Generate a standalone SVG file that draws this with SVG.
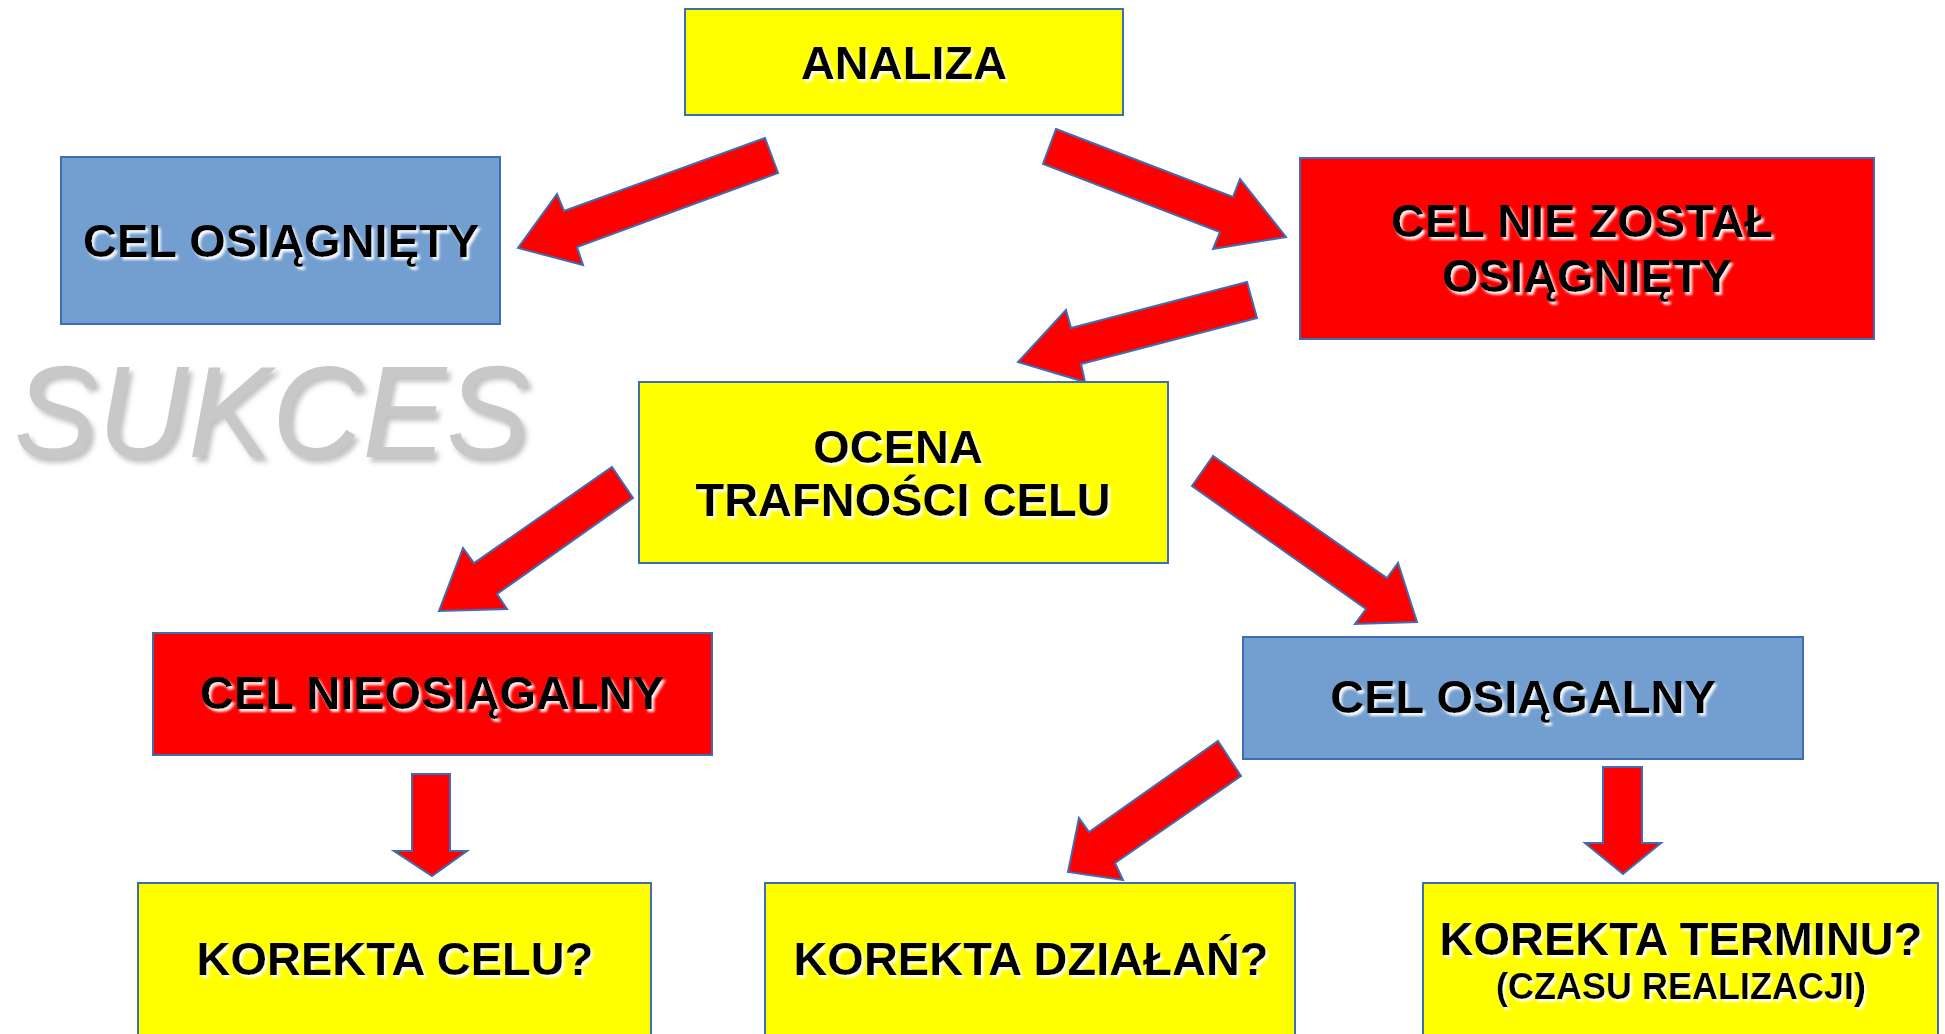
<svg xmlns="http://www.w3.org/2000/svg" width="1945" height="1034" viewBox="0 0 1945 1034">
<defs>
<filter id="ts" x="-10%" y="-20%" width="120%" height="150%">
<feDropShadow dx="2.5" dy="3" stdDeviation="1" flood-color="#ffffff" flood-opacity="0.9"/>
</filter>
<filter id="gs" x="-10%" y="-20%" width="125%" height="150%">
<feDropShadow dx="4" dy="5" stdDeviation="2.5" flood-color="#9a9a9a" flood-opacity="0.6"/>
</filter>
</defs>
<style>
.box{stroke:#3e6db3;stroke-width:2}
.y{fill:#ffff00}
.r{fill:#ff0000}
.b{fill:#739fd0}
.t{font-family:"Liberation Sans",Arial,sans-serif;font-weight:bold;font-size:47px;fill:#000;text-anchor:middle;filter:url(#ts)}
.s{font-size:36px}
.arr{fill:#ff0000;stroke:#3e6db3;stroke-width:2;stroke-linejoin:miter}
</style>
<rect width="1945" height="1034" fill="#ffffff"/>
<text x="14" y="457" font-family="'Liberation Sans',Arial,sans-serif" font-style="italic" font-size="130" fill="#c8c8c8" textLength="516" lengthAdjust="spacingAndGlyphs" filter="url(#gs)">SUKCES</text>
<g id="connectors">
<polygon class="arr" points="765,138 778,173 577,247 583,265 518,248 557,194 564,211"/>
<polygon class="arr" points="1056,129 1233,197 1240,179 1286,237 1213,249 1220,232 1043,164"/>
<polygon class="arr" points="1247,282 1257,318 1081,364 1085,382 1018,362 1066,310 1071,328"/>
<polygon class="arr" points="612,467 633,498 497,594 507,609 439,611 463,548 474,563"/>
<polygon class="arr" points="1213,456 1192,486 1366,609 1355,624 1417,622 1398,563 1387,578"/>
<polygon class="arr" points="412,774 450,774 450,851 467,851 432,876 394,851 412,851"/>
<polygon class="arr" points="1218,741 1241,776 1115,863 1123,880 1068,872 1079,818 1089,832"/>
<polygon class="arr" points="1603,767 1642,767 1642,843 1661,843 1623,874 1585,843 1603,843"/>
</g>
<g id="analiza">
<rect class="box y" x="685" y="9" width="438" height="106"/>
<text class="t" x="904" y="79">ANALIZA</text>
</g>
<g id="cel-osiagniety">
<rect class="box b" x="61" y="157" width="439" height="167"/>
<text class="t" x="281" y="257">CEL OSIĄGNIĘTY</text>
</g>
<g id="cel-nie-zostal">
<rect class="box r" x="1300" y="158" width="574" height="181"/>
<text class="t" x="1582" y="237">CEL NIE ZOSTAŁ</text>
<text class="t" x="1587" y="292">OSIĄGNIĘTY</text>
</g>
<g id="ocena">
<rect class="box y" x="639" y="382" width="529" height="181"/>
<text class="t" x="898" y="463">OCENA</text>
<text class="t" x="903" y="516">TRAFNOŚCI CELU</text>
</g>
<g id="cel-nieosiagalny">
<rect class="box r" x="153" y="633" width="559" height="122"/>
<text class="t" x="432" y="709">CEL NIEOSIĄGALNY</text>
</g>
<g id="cel-osiagalny">
<rect class="box b" x="1243" y="637" width="560" height="122"/>
<text class="t" x="1523" y="713">CEL OSIĄGALNY</text>
</g>
<g id="korekta-celu">
<rect class="box y" x="138" y="883" width="513" height="170"/>
<text class="t" x="395" y="975">KOREKTA CELU?</text>
</g>
<g id="korekta-dzialan">
<rect class="box y" x="765" y="883" width="530" height="170"/>
<text class="t" x="1031" y="975">KOREKTA DZIAŁAŃ?</text>
</g>
<g id="korekta-terminu">
<rect class="box y" x="1423" y="883" width="515" height="170"/>
<text class="t" x="1681" y="955">KOREKTA TERMINU?</text>
<text class="t s" x="1681" y="999">(CZASU REALIZACJI)</text>
</g>
</svg>
